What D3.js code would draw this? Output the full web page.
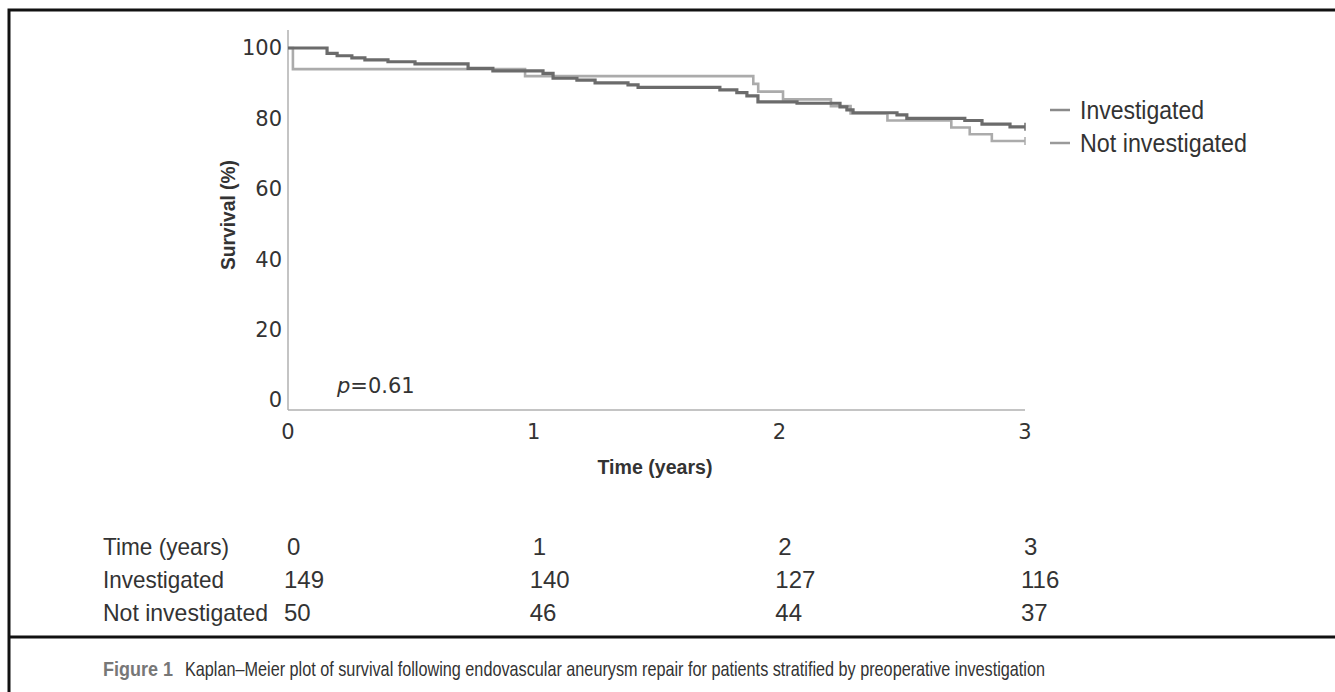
<!DOCTYPE html>
<html>
<head>
  <meta charset="utf-8">
  <title>Kaplan-Meier survival</title>
  <style>
  body { margin: 0; background: #fff; }
  .tick-label { font-family: "DejaVu Sans", sans-serif; font-size: 21px; fill: #333; }
  .narrow { font-family: "Liberation Sans", sans-serif; fill: #333; }
  .km { fill: none; }
  </style>
</head>
<body>
  <svg width="1335" height="692"></svg>
  <script src="https://cdn.jsdelivr.net/npm/d3@7/dist/d3.min.js"></script>
  <script>
  // data
  var invTime = [0, 0.159, 0.20, 0.26, 0.313, 0.407, 0.517, 0.733, 0.834, 1.038, 1.079, 1.176, 1.25, 1.384, 1.425, 1.758, 1.827, 1.868, 1.913, 2.072, 2.247, 2.275, 2.30, 2.479, 2.519, 2.755, 2.825, 2.939, 3.0];
  var invSurv = [100, 98.5, 97.8, 97.2, 96.6, 96.1, 95.5, 94.2, 93.5, 92.8, 91.4, 90.9, 90.1, 89.5, 88.8, 88.1, 87.3, 86.4, 84.7, 84.3, 83.3, 82.4, 81.6, 81.0, 80.0, 79.4, 78.4, 77.6, 77.6];
  var notTime = [0, 0.02, 0.965, 1.894, 1.914, 2.015, 2.21, 2.29, 2.44, 2.70, 2.775, 2.865, 3.0];
  var notSurv = [100, 94, 92, 89.8, 87.6, 85.4, 83.5, 81.4, 79.4, 77.4, 75.5, 73.6, 73.6];

  var seriesNames = ["Investigated", "Not investigated"];
  var seriesColors = ["#6b6b6b", "#ababab"];
  var xTicks = [0, 1, 2, 3];
  var yTicks = [0, 20, 40, 60, 80, 100];
  var riskHeader = "Time (years)";
  var riskInvestigated = [149, 140, 127, 116];
  var riskNotInvestigated = [50, 46, 44, 37];
  var pValue = "0.61";

  var svg = d3.select("svg");

  // frame lines
  svg.append("path")
    .attr("d", "M9,692 V10 H1335 M9,637 H1335")
    .attr("fill", "none")
    .attr("stroke", "#111")
    .attr("stroke-width", 3);

  var x = d3.scaleLinear().domain([0, 3]).range([288, 1025]);
  var y = d3.scaleLinear().domain([0, 100]).range([400, 48]);

  // axes
  svg.append("line")
    .attr("x1", x(0)).attr("x2", x(0)).attr("y1", 30).attr("y2", 410)
    .attr("stroke", "#b0b0b0").attr("stroke-width", 1.5);
  svg.append("line")
    .attr("x1", x(0)).attr("x2", x(3)).attr("y1", 410).attr("y2", 410)
    .attr("stroke", "#b0b0b0").attr("stroke-width", 1.5);

  svg.selectAll(".ytick")
    .data(yTicks)
    .enter()
    .append("text")
    .attr("class", "tick-label")
    .attr("x", 282)
    .attr("y", function(d) { return y(d); })
    .attr("dy", "0.35em")
    .attr("text-anchor", "end")
    .text(function(d) { return d; });

  svg.selectAll(".xtick")
    .data(xTicks)
    .enter()
    .append("text")
    .attr("class", "tick-label")
    .attr("x", function(d) { return x(d); })
    .attr("y", 432)
    .attr("dy", "0.35em")
    .attr("text-anchor", "middle")
    .text(function(d) { return d; });

  svg.append("text")
    .attr("class", "narrow")
    .attr("transform", "translate(235,215) rotate(-90)")
    .attr("text-anchor", "middle")
    .attr("font-size", 20)
    .attr("font-weight", "bold")
    .attr("textLength", 110)
    .attr("lengthAdjust", "spacingAndGlyphs")
    .text("Survival (%)");

  svg.append("text")
    .attr("class", "narrow")
    .attr("x", 655).attr("y", 474)
    .attr("text-anchor", "middle")
    .attr("font-size", 20)
    .attr("font-weight", "bold")
    .attr("textLength", 115)
    .attr("lengthAdjust", "spacingAndGlyphs")
    .text("Time (years)");

  var pText = svg.append("text")
    .attr("class", "tick-label")
    .attr("x", 337).attr("y", 393);
  pText.append("tspan").attr("font-style", "italic").text("p");
  pText.append("tspan").text("=" + pValue);

  // survival curves
  var curves = [
    d3.zip(invTime, invSurv),
    d3.zip(notTime, notSurv)
  ];
  var line = d3.line()
    .x(function(d) { return x(d[0]); })
    .y(function(d) { return y(d[1]); })
    .curve(d3.curveStepAfter);

  // draw the light one first so the dark sits on top
  [1, 0].forEach(function(i) {
    svg.append("path")
      .attr("class", "km")
      .attr("d", line(curves[i]))
      .attr("stroke", seriesColors[i])
      .attr("stroke-width", i == 0 ? 3.2 : 2.6);
    var last = curves[i][curves[i].length - 1];
    svg.append("line")
      .attr("x1", x(last[0])).attr("x2", x(last[0]))
      .attr("y1", y(last[1]) - 4).attr("y2", y(last[1]) + 4)
      .attr("stroke", seriesColors[i]).attr("stroke-width", 1.5);
  });

  // legend
  var legend = svg.selectAll(".legend")
    .data(seriesNames)
    .enter()
    .append("g")
    .attr("transform", function(d, i) { return "translate(1050," + (110 + i * 33) + ")"; });
  legend.append("line")
    .attr("x1", 0).attr("x2", 20)
    .attr("stroke", function(d, i) { return i == 0 ? "#8a8a8a" : "#9a9a9a"; })
    .attr("stroke-width", 2.5);
  legend.append("text")
    .attr("class", "narrow")
    .attr("x", 30)
    .attr("dy", "0.35em")
    .attr("font-size", 25)
    .attr("textLength", function(d, i) { return i == 0 ? 124 : 167; })
    .attr("lengthAdjust", "spacingAndGlyphs")
    .text(function(d) { return d; });

  // number at risk table
  var rows = [
    { label: riskHeader, values: xTicks },
    { label: seriesNames[0], values: riskInvestigated },
    { label: seriesNames[1], values: riskNotInvestigated }
  ];
  var row = svg.selectAll(".row")
    .data(rows)
    .enter()
    .append("g")
    .attr("transform", function(d, i) { return "translate(0," + (547 + i * 33) + ")"; });
  row.append("text")
    .attr("class", "narrow")
    .attr("x", 103)
    .attr("dy", "0.35em")
    .attr("font-size", 24)
    .attr("textLength", function(d, i) { return [126, 121, 165][i]; })
    .attr("lengthAdjust", "spacingAndGlyphs")
    .text(function(d) { return d.label; });
  row.selectAll(".val")
    .data(function(d, i) { return d.values.map(function(v, j) { return { v: v, j: j, head: i == 0 }; }); })
    .enter()
    .append("text")
    .attr("class", "narrow")
    .attr("x", function(d) { return x(xTicks[d.j]) + (d.head ? -1 : -4); })
    .attr("dy", "0.35em")
    .attr("font-size", 24)
    .text(function(d) { return d.v; });

  // caption
  var cap = svg.append("text")
    .attr("class", "narrow")
    .attr("x", 103).attr("y", 676)
    .attr("font-size", 21);
  cap.append("tspan").attr("font-weight", "bold").attr("fill", "#777")
    .attr("textLength", 70).attr("lengthAdjust", "spacingAndGlyphs")
    .text("Figure 1");
  cap.append("tspan").attr("x", 185)
    .attr("textLength", 860).attr("lengthAdjust", "spacingAndGlyphs")
    .text("Kaplan\u2013Meier plot of survival following endovascular aneurysm repair for patients stratified by preoperative investigation");
  </script>
</body>
</html>
